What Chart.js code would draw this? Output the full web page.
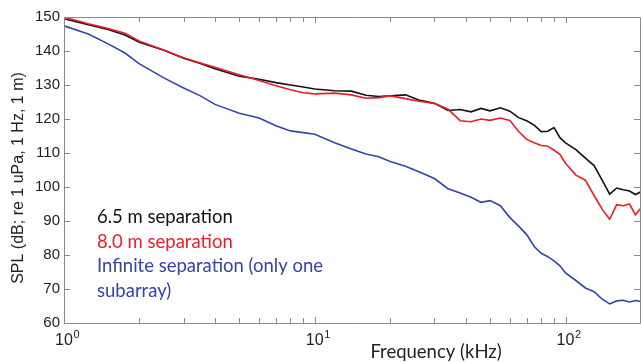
<!DOCTYPE html>
<html>
<head>
<meta charset="utf-8">
<script src="https://cdn.jsdelivr.net/npm/chart.js@4/dist/chart.umd.min.js"></script>
<style>
  html, body { margin: 0; padding: 0; background: #fff; }
  #wrap { width: 641px; height: 362px; position: relative; }
</style>
</head>
<body>
<div id="wrap"><canvas id="splChart"></canvas></div>
<script>
// frequencies (kHz) the curves were read at
const freqKHz = [1, 1.25, 1.5, 1.75, 2, 2.5, 3, 3.5, 4, 5, 6, 7, 8, 9, 10, 12, 14, 16, 18, 20,
  23, 26, 30, 34, 38, 42, 46, 50, 55, 60, 65, 70, 75, 80, 85, 90, 95, 100,
  110, 120, 130, 140, 150, 160, 170, 180, 190, 200];

// SPL, dB re 1 uPa, 1 Hz, 1 m
const spl65 = [149.5, 147.7, 146.3, 144.7, 142.6, 140.2, 137.9, 136.3, 134.8, 132.6, 131.7, 130.7, 130.0, 129.4, 128.8, 128.3, 128.2, 127.0, 126.6, 126.8,
  127.1, 125.6, 124.6, 122.5, 122.8, 122.1, 123.1, 122.4, 123.3, 122.3, 120.4, 119.5, 118.2, 116.3, 116.4, 117.5, 114.5, 113.0,
  111.0, 108.5, 106.3, 102.0, 97.9, 99.7, 99.2, 98.8, 97.8, 98.6];
const spl80 = [150.0, 148.0, 146.6, 145.2, 142.9, 140.3, 138.0, 136.5, 135.2, 133.0, 131.3, 129.8, 128.6, 127.7, 127.4, 127.6, 127.1, 126.1, 126.3, 126.8,
  126.0, 125.2, 124.6, 122.9, 119.5, 119.2, 120.0, 119.6, 120.3, 119.6, 116.3, 114.0, 113.0, 112.2, 112.0, 110.8, 109.6, 107.0,
  103.5, 102.0, 97.5, 93.5, 90.5, 94.8, 94.5, 95.0, 91.8, 93.8];
const splInf = [147.4, 145.0, 142.1, 139.4, 136.2, 132.1, 129.1, 126.8, 124.3, 121.7, 120.3, 118.0, 116.5, 116.0, 115.5, 113.0, 111.2, 109.7, 108.9, 107.5,
  106.1, 104.5, 102.5, 99.5, 98.2, 97.0, 95.5, 96.0, 94.5, 91.0, 88.5, 86.0, 82.5, 80.5, 79.5, 78.3, 76.8, 74.7,
  72.5, 70.3, 69.2, 67.0, 65.6, 66.5, 66.7, 66.2, 66.6, 66.3];

const seriesNames = ["6.5 m separation", "8.0 m separation", "Infinite separation (only one", "subarray)"];
const seriesColors = ["#111111", "#ee1c24", "#3344aa"];

const xDecades = [1, 10, 100];
const xDecadeExp = ["0", "1", "2"];
const xMinor = [2, 3, 4, 5, 6, 7, 8, 9, 20, 30, 40, 50, 60, 70, 80, 90, 200];
const yTickValues = [60, 70, 80, 90, 100, 110, 120, 130, 140, 150];

const axisGray = "#8a8a8a";
const bodyFont = "Lato, 'Open Sans', sans-serif";
const numFont = "'Liberation Sans', Arial, sans-serif";

function toPoints(vals) {
  return freqKHz.map((f, i) => ({ x: f, y: vals[i] }));
}

// MATLAB-like box, inward ticks, titles, x decade labels and text legend
const decorPlugin = {
  id: "decor",
  afterDraw(chart) {
    const ctx = chart.ctx;
    const a = chart.chartArea;
    const xs = chart.scales.x;
    const ys = chart.scales.y;
    ctx.save();
    ctx.strokeStyle = axisGray;
    ctx.lineWidth = 1;
    ctx.beginPath();
    ctx.rect(Math.round(a.left) + 0.5, Math.round(a.top) + 0.5, Math.round(a.right - a.left) - 1, Math.round(a.bottom - a.top));
    ctx.stroke();

    ctx.beginPath();
    const tickX = (v, len) => {
      const px = Math.round(xs.getPixelForValue(v)) + 0.5;
      ctx.moveTo(px, a.bottom); ctx.lineTo(px, a.bottom - len);
      ctx.moveTo(px, a.top); ctx.lineTo(px, a.top + len);
    };
    xDecades.forEach(v => tickX(v, 6));
    xMinor.forEach(v => tickX(v, 5));
    yTickValues.forEach(v => {
      const py = Math.round(ys.getPixelForValue(v)) + 0.5;
      ctx.moveTo(a.left, py); ctx.lineTo(a.left + 6, py);
      ctx.moveTo(a.right - 1, py); ctx.lineTo(a.right - 7, py);
    });
    ctx.stroke();

    // x decade labels 10^n
    ctx.fillStyle = "#222";
    ctx.textBaseline = "alphabetic";
    xDecades.forEach((v, i) => {
      const px = xs.getPixelForValue(v);
      ctx.font = "16px " + numFont;
      ctx.textAlign = "center";
      ctx.fillText("10", px, 345);
      const w = ctx.measureText("10").width;
      ctx.font = "11px " + numFont;
      ctx.textAlign = "left";
      ctx.fillText(xDecadeExp[i], px + w / 2 + 0.5, 338);
    });

    // axis titles
    ctx.font = "18.5px " + bodyFont;
    ctx.textAlign = "center";
    ctx.fillText("Frequency (kHz)", 436, 358);

    ctx.save();
    ctx.translate(23, 178);
    ctx.rotate(-Math.PI / 2);
    ctx.font = "16px " + numFont;
    ctx.fillText("SPL (dB; re 1 uPa, 1 Hz, 1 m)", 0, 0);
    ctx.restore();

    // text legend
    ctx.font = "18.5px " + bodyFont;
    ctx.textAlign = "left";
    const lx = 97;
    const rows = [
      [seriesNames[0], seriesColors[0], 223],
      [seriesNames[1], seriesColors[1], 247.5],
      [seriesNames[2], seriesColors[2], 272],
      [seriesNames[3], seriesColors[2], 296.5]
    ];
    rows.forEach(r => {
      ctx.fillStyle = r[1];
      ctx.fillText(r[0], lx, r[2]);
    });
    ctx.restore();
  }
};

new Chart(document.getElementById("splChart"), {
  type: "line",
  data: {
    datasets: [
      { label: seriesNames[0], data: toPoints(spl65), borderColor: seriesColors[0] },
      { label: seriesNames[1], data: toPoints(spl80), borderColor: seriesColors[1] },
      { label: "Infinite separation (only one subarray)", data: toPoints(splInf), borderColor: seriesColors[2] }
    ].map(d => Object.assign(d, { borderWidth: 1.6, pointRadius: 0, fill: false, tension: 0 }))
      .reverse()
  },
  options: {
    responsive: true,
    maintainAspectRatio: false,
    animation: false,
    layout: { padding: { top: 17, right: 0, left: 0, bottom: 0 } },
    plugins: { legend: { display: false }, tooltip: { enabled: false } },
    scales: {
      x: {
        type: "logarithmic",
        min: 1,
        max: 200,
        grid: { display: false },
        border: { display: false },
        ticks: { display: false },
        afterFit: s => { s.height = 39; }
      },
      y: {
        min: 60,
        max: 150,
        grid: { display: false, drawTicks: false },
        border: { display: false },
        ticks: {
          stepSize: 10,
          padding: 4,
          color: "#222",
          font: { family: numFont, size: 15 }
        },
        afterFit: s => { s.width = 64; }
      }
    }
  },
  plugins: [decorPlugin]
});
</script>
</body>
</html>
